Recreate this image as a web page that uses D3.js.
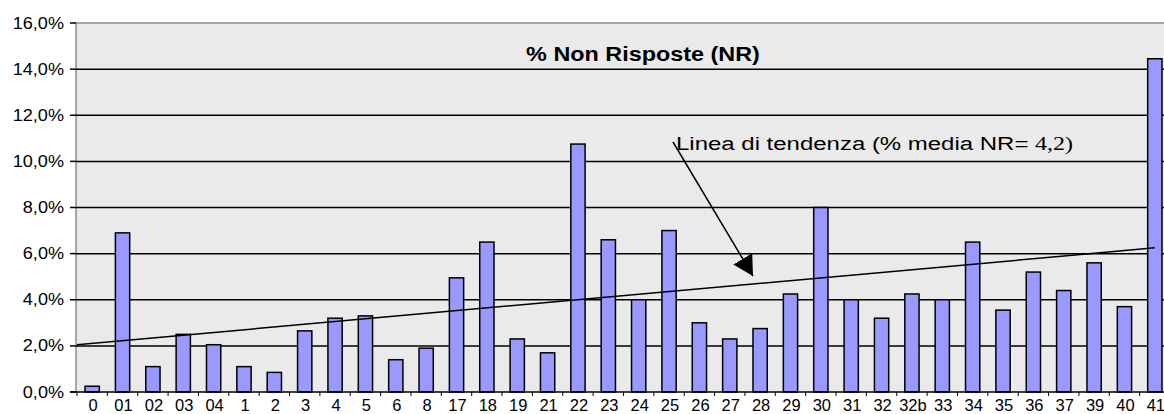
<!DOCTYPE html>
<html>
<head>
<meta charset="utf-8">
<script src="https://cdn.jsdelivr.net/npm/d3@7"></script>
<style>
  body { margin: 0; background: #fff; }
  text { font-family: Arial, "Liberation Sans", sans-serif; }
</style>
</head>
<body>
<svg id="chart" width="1164" height="414"></svg>
<script>
// ------ data ------
var categories = ['0', '01', '02', '03', '04', '1', '2', '3', '4', '5', '6', '8',
  '17', '18', '19', '21', '22', '23', '24', '25', '26', '27', '28', '29', '30',
  '31', '32', '32b', '33', '34', '35', '36', '37', '39', '40', '41']
var nonRisposte = [0.25, 6.9, 1.1, 2.5, 2.05, 1.1, 0.85, 2.65, 3.2, 3.3, 1.4, 1.9,
  4.95, 6.5, 2.3, 1.7, 10.75, 6.6, 4.0, 7.0, 3.0, 2.3, 2.75, 4.25, 8.0,
  4.0, 3.2, 4.25, 4.0, 6.5, 3.55, 5.2, 4.4, 5.6, 3.7, 14.45]
var yTicks = [0, 2, 4, 6, 8, 10, 12, 14, 16]
var trend = [2.05, 6.25] // start / end of the trend line
var title = '% Non Risposte (NR)'
var trendLabel = 'Linea di tendenza (% media NR= '
var trendMean = '4,2)'

;(function () {
  var svg = d3.select('#chart')
  var plotLeft = 76, plotTop = 23, plotBottom = 392, plotRight = 1170

  var x = d3.scaleBand()
    .domain(categories)
    .range([plotLeft + 1, plotRight])
    .paddingInner(0.53)
    .paddingOuter(0.265)

  var y = d3.scaleLinear().domain([0, 16]).range([plotBottom, plotTop])

  function fmt (v) { return d3.format('.1f')(v).replace('.', ',') + '%' }

  // ------ plot area ------
  svg.append('rect')
    .attr('x', plotLeft).attr('y', plotTop)
    .attr('width', 1164 - plotLeft).attr('height', plotBottom - plotTop)
    .attr('fill', '#eaeaea')
  svg.append('path')
    .attr('d', 'M' + plotLeft + ',' + plotBottom + 'V' + plotTop + 'H1164')
    .attr('fill', 'none').attr('stroke', '#8c8c8c').attr('stroke-width', 1.5)

  // gridlines
  svg.append('g').selectAll('line')
    .data(yTicks.filter(function (d) { return d > 0 && d < 16 }))
    .join('line')
    .attr('x1', plotLeft).attr('x2', 1164)
    .attr('y1', function (d) { return y(d) }).attr('y2', function (d) { return y(d) })
    .attr('stroke', '#000').attr('stroke-width', 1.5)

  // y axis ticks + labels
  var yAxis = svg.append('g')
  yAxis.selectAll('line')
    .data(yTicks)
    .join('line')
    .attr('x1', plotLeft - 6).attr('x2', plotLeft)
    .attr('y1', function (d) { return y(d) }).attr('y2', function (d) { return y(d) })
    .attr('stroke', '#000').attr('stroke-width', 1.5)
  yAxis.selectAll('text')
    .data(yTicks)
    .join('text')
    .attr('transform', function (d) { return 'translate(64,' + (y(d) + 5.5) + ') scale(1.13,1)' })
    .attr('text-anchor', 'end')
    .attr('font-size', 16)
    .attr('fill', '#000')
    .text(fmt)

  // ------ bars ------
  svg.append('g').selectAll('rect')
    .data(nonRisposte)
    .join('rect')
    .attr('x', function (d, i) { return x(categories[i]) })
    .attr('y', function (d) { return y(d) })
    .attr('width', x.bandwidth())
    .attr('height', function (d) { return y(0) - y(d) })
    .attr('fill', '#9999ff')
    .attr('stroke', '#000')
    .attr('stroke-width', 1.5)

  // ------ x axis ------
  svg.append('line')
    .attr('x1', plotLeft - 6).attr('x2', 1164)
    .attr('y1', plotBottom).attr('y2', plotBottom)
    .attr('stroke', '#000').attr('stroke-width', 1.5)
  svg.append('g').selectAll('line')
    .data(categories)
    .join('line')
    .attr('x1', function (d) { return x(d) - x.step() * x.paddingInner() / 2 })
    .attr('x2', function (d) { return x(d) - x.step() * x.paddingInner() / 2 })
    .attr('y1', plotBottom).attr('y2', plotBottom + 4)
    .attr('stroke', '#000').attr('stroke-width', 1)
  svg.append('g').selectAll('text')
    .data(categories)
    .join('text')
    .attr('x', function (d) { return x(d) + x.bandwidth() / 2 + 1 })
    .attr('y', 411)
    .attr('text-anchor', 'middle')
    .attr('font-size', 16.5)
    .text(function (d) { return d })

  // ------ trend line ------
  var last = categories[categories.length - 1]
  svg.append('line')
    .attr('x1', plotLeft + 1).attr('y1', y(trend[0]))
    .attr('x2', x(last) + x.bandwidth() / 2).attr('y2', y(trend[1]))
    .attr('stroke', '#000').attr('stroke-width', 1.5)

  // ------ title ------
  svg.append('text')
    .attr('transform', 'translate(643,61) scale(1.17,1)')
    .attr('text-anchor', 'middle')
    .attr('font-size', 20)
    .attr('font-weight', 'bold')
    .text(title)

  // ------ annotation ------
  svg.append('defs').append('marker')
    .attr('id', 'head')
    .attr('viewBox', '0 -11 20 22')
    .attr('refX', 20).attr('refY', 0)
    .attr('markerWidth', 20).attr('markerHeight', 22)
    .attr('markerUnits', 'userSpaceOnUse')
    .attr('orient', 'auto')
    .append('path').attr('d', 'M0,-11L20,0L0,11Z').attr('fill', '#000')

  svg.append('line')
    .attr('x1', 673).attr('y1', 142)
    .attr('x2', 753).attr('y2', 276)
    .attr('stroke', '#000').attr('stroke-width', 1.5)
    .attr('marker-end', 'url(#head)')

  var ann = svg.append('text')
    .attr('x', 676).attr('y', 150)
    .attr('font-size', 18)
    .attr('textLength', 397)
    .attr('lengthAdjust', 'spacingAndGlyphs')
  ann.append('tspan').text(trendLabel)
  ann.append('tspan').attr('font-family', '"Liberation Serif", "Times New Roman", serif').text(trendMean)
})()
</script>
</body>
</html>
